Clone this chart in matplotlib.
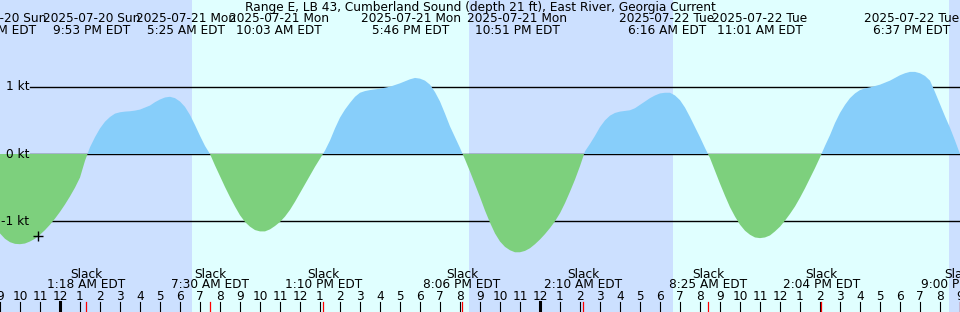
import numpy as np
import matplotlib.pyplot as plt

# current speed (kt) every quarter hour, hours from midnight 2025-07-21 (EDT)
hours = np.arange(-3.0, 45.001, 0.25)
speed = np.array([
    -1.18, -1.26, -1.31, -1.335, -1.34, -1.33, -1.30, -1.26, -1.20, -1.13,
    -1.05, -0.96, -0.86, -0.75, -0.63, -0.50, -0.35, -0.10, 0.10, 0.25,
    0.38, 0.48, 0.55, 0.60, 0.62, 0.63, 0.635, 0.645, 0.66, 0.69,
    0.72, 0.77, 0.81, 0.84, 0.85, 0.83, 0.78, 0.70, 0.58, 0.43,
    0.27, 0.12, 0.00, -0.17, -0.33, -0.49, -0.64, -0.78, -0.91, -1.01,
    -1.08, -1.13, -1.15, -1.15, -1.12, -1.07, -1.01, -0.93, -0.83, -0.71,
    -0.58, -0.45, -0.32, -0.19, -0.07, 0.05, 0.20, 0.38, 0.54, 0.66,
    0.76, 0.85, 0.91, 0.935, 0.95, 0.96, 0.97, 0.985, 1.00, 1.025,
    1.05, 1.08, 1.11, 1.13, 1.12, 1.09, 1.03, 0.92, 0.78, 0.60,
    0.41, 0.25, 0.09, -0.08, -0.26, -0.45, -0.64, -0.84, -1.02, -1.18,
    -1.30, -1.38, -1.43, -1.46, -1.46, -1.44, -1.40, -1.34, -1.27, -1.19,
    -1.10, -1.00, -0.88, -0.73, -0.56, -0.38, -0.18, 0.04, 0.15, 0.27,
    0.40, 0.50, 0.57, 0.61, 0.63, 0.64, 0.65, 0.68, 0.73, 0.78,
    0.83, 0.87, 0.90, 0.91, 0.91, 0.87, 0.80, 0.69, 0.55, 0.40,
    0.25, 0.09, -0.06, -0.25, -0.44, -0.62, -0.79, -0.93, -1.05, -1.14,
    -1.20, -1.24, -1.25, -1.24, -1.21, -1.15, -1.08, -0.99, -0.89, -0.78,
    -0.65, -0.51, -0.36, -0.21, -0.05, 0.12, 0.28, 0.46, 0.61, 0.73,
    0.83, 0.90, 0.95, 0.975, 0.99, 1.01, 1.03, 1.06, 1.09, 1.13,
    1.17, 1.20, 1.22, 1.22, 1.20, 1.16, 1.09, 0.92, 0.74, 0.56,
    0.39, 0.20, 0.00])

title = 'Range E, LB 43, Cumberland Sound (depth 21 ft), East River, Georgia Current'

# max flood / ebb labels (top)
peak_pos = [-3.1, 1.6, 6.3, 10.95, 17.55, 22.85, 30.35, 35.0, 42.6]
peak_dates = ['2025-07-20 Sun', '2025-07-20 Sun', '2025-07-21 Mon', '2025-07-21 Mon',
              '2025-07-21 Mon', '2025-07-21 Mon', '2025-07-22 Tue', '2025-07-22 Tue',
              '2025-07-22 Tue']
peak_times = ['4:55 PM EDT', '9:53 PM EDT', '5:25 AM EDT', '10:03 AM EDT', '5:46 PM EDT',
              '10:51 PM EDT', '6:16 AM EDT', '11:01 AM EDT', '6:37 PM EDT']

# slack water (bottom)
slack_hours = [1.3, 7.5, 13.167, 20.1, 26.167, 32.417, 38.067, 45.0]
slack_times = ['1:18 AM EDT', '7:30 AM EDT', '1:10 PM EDT', '8:06 PM EDT',
               '2:10 AM EDT', '8:25 AM EDT', '2:04 PM EDT', '9:00 PM EDT']

# day / night (sunrise, sunset)
sun_events = [6.58, 20.47, 30.63, 44.47]

night_col = '#cce0ff'
day_col = '#e0ffff'
flood_col = '#87cefa'
ebb_col = '#7dd07d'


def ky(py):
    # pixel row -> kt
    return (154 - py) / 67.3


fig = plt.figure(figsize=(9.6, 3.12), dpi=100)
ax = fig.add_axes([0, 0, 1, 1])
ax.set_xlim(-3, 45)
ax.set_ylim(ky(312), ky(0))
ax.axis('off')

edges = [-3] + sun_events + [45]
for i in range(len(edges) - 1):
    ax.axvspan(edges[i], edges[i + 1], color=night_col if i % 2 == 0 else day_col,
               lw=0, zorder=0)

xl = -3 + 30 / 20.0
for v in [1, 0, -1]:
    ax.plot([xl, 45], [v, v], color='black', lw=1.0, zorder=1)
    ax.text(xl - 0.05, v, '%d kt' % v, ha='right', va='center', fontsize=8.7)

ax.fill_between(hours, speed, 0, where=speed >= 0, interpolate=True,
                color=flood_col, lw=0, zorder=2)
ax.fill_between(hours, speed, 0, where=speed <= 0, interpolate=True,
                color=ebb_col, lw=0, zorder=2)

ax.plot([-1.1], [ky(236)], marker='+', color='black', ms=7, mew=1.0, zorder=3)

ax.text(21, ky(8), title, ha='center', va='center', fontsize=8.7)
for p, d, t in zip(peak_pos, peak_dates, peak_times):
    ax.text(p, ky(19), d, ha='center', va='center', fontsize=8.7)
    ax.text(p, ky(31), t, ha='center', va='center', fontsize=8.7)

for h, t in zip(slack_hours, slack_times):
    ax.text(h, ky(274), 'Slack', ha='center', va='center', fontsize=8.7)
    ax.text(h, ky(285), t, ha='center', va='center', fontsize=8.7)

# hour ticks
for h in range(-3, 46):
    lab = (h + 24) % 12
    if lab == 0:
        lab = 12
    ax.text(h, ky(297), str(lab), ha='center', va='center', fontsize=8.7)
    lw = 2.2 if (h % 24 == 0) else 0.8
    ax.plot([h, h], [ky(302), ky(312)], color='black', lw=lw, zorder=3)
for h in slack_hours:
    ax.plot([h, h], [ky(302), ky(312)], color='red', lw=0.9, zorder=4)

plt.savefig('out.png', dpi=100)
